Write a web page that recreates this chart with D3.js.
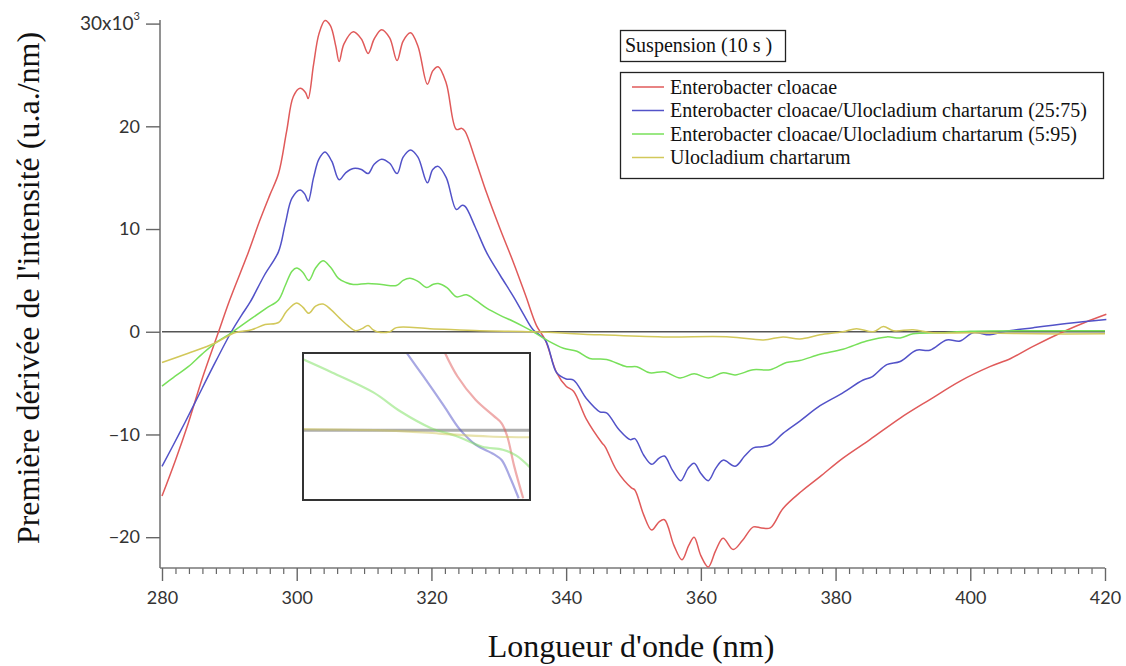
<!DOCTYPE html>
<html><head><meta charset="utf-8">
<script src="https://cdn.jsdelivr.net/npm/d3@7"></script>
<style>body{margin:0;background:#fff}svg{display:block}</style>
</head><body><svg id="c" width="1126" height="666"></svg>
<script>
// ---------- DATA ----------
const seriesNames = [
  "Enterobacter cloacae",
  "Enterobacter cloacae/Ulocladium chartarum (25:75)",
  "Enterobacter cloacae/Ulocladium chartarum (5:95)",
  "Ulocladium chartarum"
];
const seriesColors = ["#e05a5a", "#5252c8", "#78e05a", "#d2c85a"];

// wavelength (nm), derivative (x10^3 u.a./nm)
const redData = [[280,-16.0],[282,-12.5],[283.9,-8.9],[286,-4.5],[288.4,0],[290,3.0],[292.8,7.7],[294.5,10.8],[296,13.3],[297.3,15.4],[298.5,19.5],[299.5,22.9],[300.5,23.7],[301.3,23.3],[301.7,22.7],[302.5,26],[303.3,29],[304.2,30.3],[305,29.8],[305.8,27.8],[306.3,26.3],[307,28],[308.4,29.2],[309.6,28.5],[310.6,27.1],[311.5,28.5],[312.6,29.4],[313.8,28.6],[314.9,26.4],[315.8,28.3],[316.9,29.1],[318,27.8],[319.4,24.1],[320.2,25.4],[321.0,25.8],[322.2,24.2],[323.7,19.7],[324.5,19.8],[325.0,19.5],[326.5,16.8],[328.2,13.5],[330.2,10.0],[332.2,6.7],[334,3.5],[335.6,0.6],[336.9,-0.8],[338.6,-4.0],[340,-5.3],[341.1,-5.8],[343,-8.5],[345.3,-10.8],[345.8,-11.2],[347.5,-13.5],[349.7,-15.2],[350.2,-15.4],[351.5,-17.8],[352.7,-19.3],[353.8,-18.5],[354.6,-18.3],[356,-20.8],[357.2,-22.2],[358.2,-20.8],[359.0,-20.0],[360,-21.8],[361.1,-22.9],[362.2,-21.3],[363.3,-20.1],[364.8,-21.2],[366.2,-20.3],[367.8,-19.0],[369,-19.1],[370.3,-19.1],[372.2,-17.2],[375,-15.5],[377.7,-14.1],[381.1,-12.3],[385.1,-10.5],[389.6,-8.4],[394.0,-6.6],[398.5,-4.8],[402.9,-3.4],[406,-2.6],[409.4,-1.4],[413.8,0],[417,0.9],[420.2,1.7]];

const blueData = [[280,-13.1],[282.5,-10],[284.9,-6.9],[287.5,-3.5],[290.3,0],[291.8,1.6],[293.1,2.9],[295.2,5.5],[297.3,7.8],[298.3,10.5],[299.3,13],[300.5,13.8],[301.2,13.4],[301.7,12.7],[302.5,15],[303.3,16.8],[304.2,17.5],[305.2,16.6],[306.3,14.8],[307.3,15.5],[308.4,15.9],[309.6,15.8],[310.6,15.4],[311.5,16.3],[312.6,16.8],[313.8,16.4],[314.9,15.4],[315.8,17],[316.9,17.7],[318,17],[319.4,14.5],[320.2,15.8],[321.0,16.1],[322.2,15],[323.7,11.9],[324.5,12.3],[325.0,12.2],[326.5,10.2],[328.2,7.7],[330.2,5.5],[332.2,3.4],[333.6,1.8],[335.1,0.2],[336.9,-0.8],[338.6,-4.0],[340,-4.6],[341.1,-4.7],[343,-6.5],[345,-7.8],[346,-7.9],[347.8,-9.5],[349.5,-10.5],[350.2,-10.4],[351.5,-12],[352.7,-12.9],[353.8,-12.3],[354.6,-12.1],[355.8,-13.5],[357,-14.5],[358.1,-13.3],[359,-12.8],[360,-13.8],[361.1,-14.5],[362.2,-13.3],[363.3,-12.5],[365.1,-13.1],[366.5,-12.1],[367.8,-11.3],[369,-11.2],[370.3,-11.0],[372.2,-9.9],[374.7,-8.7],[377.7,-7.2],[380.7,-6.1],[384.1,-4.7],[385.4,-4.4],[387.6,-3.2],[389.6,-2.9],[392,-1.8],[394,-1.8],[396.5,-0.8],[398.5,-0.9],[400.4,-0.1],[402.9,-0.3],[404.9,0],[409.4,0.4],[414.3,0.8],[420.2,1.2]];

const greenData = [[280,-5.3],[282,-4.3],[283.9,-3.4],[285.9,-2.2],[287.9,-1.1],[290.3,-0.1],[293.3,1.3],[295.5,2.3],[297.3,3.1],[298.3,4.5],[299.3,5.9],[300.0,6.2],[300.9,5.8],[301.8,5.0],[302.8,6.2],[303.9,6.9],[305,6.3],[306.2,5.2],[307.3,4.8],[308.4,4.6],[310.6,4.7],[312.6,4.6],[314.8,4.5],[315.8,5.0],[316.8,5.2],[318,4.9],[319.3,4.3],[320.2,4.6],[321.0,4.7],[322.3,4.3],[323.7,3.4],[325.2,3.6],[326.7,3.0],[328.2,2.3],[330.2,1.6],[332.2,1.0],[333.7,0.5],[335.1,0],[337.1,-0.8],[339.6,-1.6],[341.6,-1.9],[343.5,-2.6],[346.0,-2.7],[349.0,-3.4],[350.5,-3.4],[352.4,-4.0],[354.6,-3.9],[356.9,-4.5],[359.0,-4.1],[361.1,-4.5],[363.3,-4.0],[365.1,-4.2],[367.8,-3.7],[370.3,-3.7],[372.7,-3.0],[374.7,-2.8],[377.7,-2.2],[381.1,-1.7],[384.6,-0.9],[387.6,-0.5],[389.6,-0.6],[391.5,-0.2],[395.5,-0.1],[400,0.05],[410,0.1],[420,0.1]];

const yellowData = [[280,-3.0],[283.9,-2.1],[287.9,-1.1],[290.8,-0.1],[293.3,0.2],[295.3,0.7],[297.3,0.9],[298.5,2.0],[300.0,2.8],[300.9,2.4],[301.8,1.8],[302.8,2.5],[303.9,2.7],[305,2.2],[306.4,1.3],[307.6,0.6],[308.7,0.1],[309.7,0.3],[310.6,0.6],[311.3,0.2],[311.9,0],[313.8,0],[314.8,0.4],[319.8,0.3],[327.2,0.1],[335.1,0],[345,-0.3],[354.4,-0.5],[364.3,-0.5],[369.3,-0.8],[372.2,-0.5],[374.7,-0.7],[377.7,-0.3],[381.1,0],[383.1,0.3],[385.6,0],[387.1,0.5],[388.6,0.1],[391.5,0.2],[394.5,-0.1],[400,-0.1],[410,-0.2],[420,-0.2]];

// inset (zoom around the zero crossing)
const insetRed = [[336.125,1.054],[336.4,0.734],[336.8,0.414],[337.2,0.194],[337.375,0.094],[337.5,-0.086],[337.65,-0.486],[337.85,-0.926]];
const insetBlue = [[335.28,1.054],[335.65,0.734],[336.1,0.334],[336.45,0.014],[336.8,-0.196],[337.2,-0.326],[337.375,-0.406],[337.55,-0.626],[337.75,-0.926]];
const insetGreen = [[333,0.964],[333.65,0.782],[334.55,0.514],[335.15,0.254],[335.8,0.034],[336.4,-0.086],[336.95,-0.226],[337.4,-0.266],[337.7,-0.346],[338,-0.506]];
const insetYellow = [[333,0.014],[334.9,-0.006],[336,-0.046],[337.1,-0.086],[338,-0.096]];

const xTicks = [280,300,320,340,360,380,400,420];
const yTicks = [-20,-10,0,10,20,30];
const legendTitle = "Suspension (10 s )";
const xTitle = "Longueur d'onde (nm)";
const yTitle = "Première dérivée de l'intensité (u.a./nm)";

// ---------- DRAW ----------
const svg = d3.select("#c");
const x = d3.scaleLinear().domain([280,420]).range([162,1105]);
const y = d3.scaleLinear().domain([-23,30.35]).range([568,20]);
const tickFont = "Lato, 'Liberation Sans', sans-serif";
const serif = "'Liberation Serif', 'Times New Roman', serif";

// x axis: minor ticks
const xMinor = d3.range(280,421,2).filter(v => v % 20 !== 0);
svg.append("g").attr("transform","translate(0,568)")
  .call(d3.axisBottom(x).tickValues(xMinor).tickSize(6).tickFormat(""))
  .call(g => g.select(".domain").remove())
  .call(g => g.selectAll("line").attr("stroke","#666").attr("stroke-width",1.2));
const gx = svg.append("g").attr("transform","translate(0,568)")
  .call(d3.axisBottom(x).tickValues(xTicks).tickSize(13).tickSizeOuter(0).tickPadding(10).tickFormat(d3.format("d")));
gx.select(".domain").attr("stroke","#777").attr("stroke-width",1.6).attr("d","M160,0H1105");
gx.selectAll("line").attr("stroke","#666").attr("stroke-width",1.4);
gx.selectAll("text").attr("font-family",tickFont).attr("font-size",18).attr("fill","#333");

// y axis
const gy = svg.append("g").attr("transform","translate(160,0)")
  .call(d3.axisLeft(y).tickValues(yTicks).tickSize(14).tickSizeOuter(0).tickPadding(6)
    .tickFormat(d => d === 30 ? "" : d3.format("d")(d)));
gy.select(".domain").attr("stroke","#777").attr("stroke-width",1.6).attr("d","M0,20V568");
gy.selectAll("line").attr("stroke","#666").attr("stroke-width",1.4);
gy.selectAll("text").attr("font-family",tickFont).attr("font-size",18).attr("fill","#333");
gy.selectAll(".tick").filter(d => d === 30).select("text")
  .call(t => { t.append("tspan").text("30x10").attr("font-size",19);
               t.append("tspan").text("3").attr("font-size",11).attr("dy",-10); });

// zero line
svg.append("line").attr("x1",x(280)).attr("x2",x(420)).attr("y1",y(0)).attr("y2",y(0))
  .attr("stroke","#555").attr("stroke-width",1.4);

// curves
const line = d3.line().x(d => x(d[0])).y(d => y(d[1])).curve(d3.curveCatmullRom.alpha(0.5));
const allData = [redData, blueData, greenData, yellowData];
allData.forEach((data,i) => {
  svg.append("path").datum(data).attr("d",line).attr("fill","none")
    .attr("stroke",seriesColors[i]).attr("stroke-width",1.5);
});

// inset
const ix = d3.scaleLinear().domain([333,338]).range([303,530]);
const iy = d3.scaleLinear().domain([-0.95,1.05]).range([500,353]);
svg.append("clipPath").attr("id","ic").append("rect").attr("x",303).attr("y",353).attr("width",227).attr("height",147);
svg.append("rect").attr("x",303).attr("y",353).attr("width",227).attr("height",147).attr("fill","#fff");
const ig = svg.append("g").attr("clip-path","url(#ic)");
ig.append("line").attr("x1",303).attr("x2",530).attr("y1",iy(0)).attr("y2",iy(0))
  .attr("stroke","#999").attr("stroke-width",3).attr("opacity",0.8);
const iline = d3.line().x(d => ix(d[0])).y(d => iy(d[1])).curve(d3.curveCatmullRom.alpha(0.5));
[insetRed, insetBlue, insetGreen, insetYellow].forEach((data,i) => {
  ig.append("path").datum(data).attr("d",iline).attr("fill","none")
    .attr("stroke",seriesColors[i]).attr("stroke-width",2.2).attr("opacity",0.5);
});
svg.append("rect").attr("x",303).attr("y",353).attr("width",227).attr("height",147)
  .attr("fill","none").attr("stroke","#333").attr("stroke-width",2);

// legend
svg.append("rect").attr("x",620.5).attr("y",30.5).attr("width",165).attr("height",31)
  .attr("fill","#fff").attr("stroke","#222").attr("stroke-width",1.3);
svg.append("text").attr("x",625).attr("y",52).attr("font-family",serif).attr("font-size",20)
  .attr("fill","#111").text(legendTitle);
svg.append("rect").attr("x",620.5).attr("y",72.5).attr("width",483).attr("height",106)
  .attr("fill","#fff").attr("stroke","#222").attr("stroke-width",1.3);
seriesNames.forEach((name,i) => {
  const cy = 87 + i*23.5;
  svg.append("line").attr("x1",632).attr("x2",664).attr("y1",cy).attr("y2",cy)
    .attr("stroke",seriesColors[i]).attr("stroke-width",1.5);
  svg.append("text").attr("x",670).attr("y",cy+6.5).attr("font-family",serif).attr("font-size",20)
    .attr("fill","#111").text(name);
});

// titles
svg.append("text").attr("x",631).attr("y",657).attr("text-anchor","middle")
  .attr("font-family",serif).attr("font-size",32).attr("fill","#111").text(xTitle);
svg.append("text").attr("transform","translate(39,288) rotate(-90)").attr("text-anchor","middle")
  .attr("font-family",serif).attr("font-size",32).attr("fill","#111").text(yTitle);
</script>
</body></html>
